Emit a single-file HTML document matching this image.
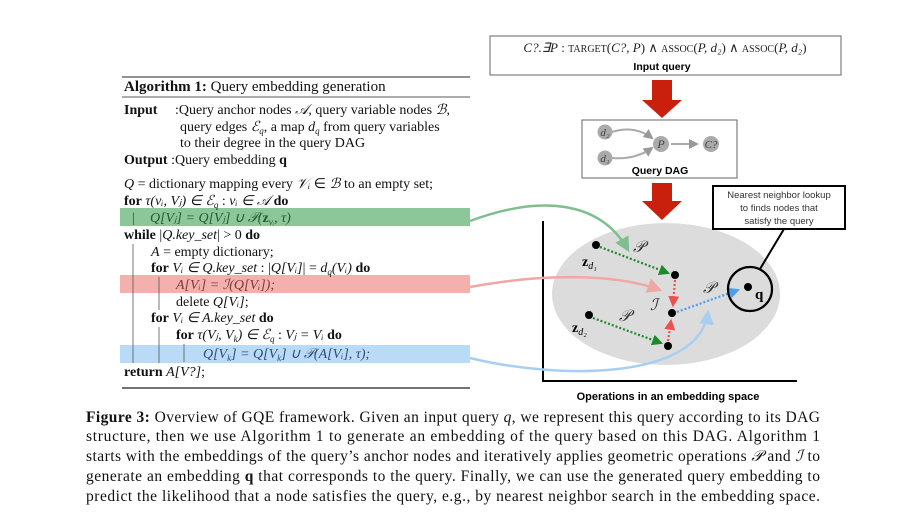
<!DOCTYPE html>
<html><head><meta charset="utf-8"><style>
html,body{margin:0;padding:0;background:#fff;}
svg{display:block;}
.s{font-family:"Liberation Serif",serif;}
.a{font-family:"Liberation Sans",sans-serif;}
</style></head><body>
<svg width="907" height="518" viewBox="0 0 907 518">
<defs>
<marker id="mg" markerWidth="6" markerHeight="6" refX="5" refY="3" orient="auto"><path d="M0,0L6,3L0,6z" fill="#7fbf8f"/></marker>
<marker id="mr" markerWidth="6" markerHeight="6" refX="5" refY="3" orient="auto"><path d="M0,0L6,3L0,6z" fill="#f0a8a4"/></marker>
<marker id="mb" markerWidth="6" markerHeight="6" refX="5" refY="3" orient="auto"><path d="M0,0L6,3L0,6z" fill="#a8cff2"/></marker>
<marker id="dg" markerWidth="5" markerHeight="5" refX="4" refY="2.5" orient="auto"><path d="M0,0L5,2.5L0,5z" fill="#1a8a2a"/></marker>
<marker id="dr" markerWidth="5" markerHeight="5" refX="4" refY="2.5" orient="auto"><path d="M0,0L5,2.5L0,5z" fill="#ee5050"/></marker>
<marker id="db" markerWidth="5" markerHeight="5" refX="4" refY="2.5" orient="auto"><path d="M0,0L5,2.5L0,5z" fill="#4aa0f0"/></marker>
<marker id="gy" markerWidth="5" markerHeight="5" refX="4" refY="2.5" orient="auto"><path d="M0,0L5,2.5L0,5z" fill="#999"/></marker>
</defs>

<!-- Algorithm -->
<g class="s" font-size="14" fill="#111">
<line x1="122" y1="77" x2="470" y2="77" stroke="#222" stroke-width="1"/>
<text x="124" y="91" font-size="15"><tspan font-weight="bold">Algorithm 1:</tspan> Query embedding generation</text>
<line x1="122" y1="97" x2="470" y2="97" stroke="#222" stroke-width="0.8"/>
<rect x="120" y="208" width="350" height="18" fill="#8cc79a"/>
<rect x="120" y="275" width="350" height="18" fill="#f4b0ad"/>
<rect x="120" y="345" width="350" height="18" fill="#b9dbf8"/>
<text x="124" y="114"><tspan font-weight="bold">Input</tspan></text>
<text x="175" y="114">:Query anchor nodes <tspan font-style="italic">𝒜</tspan>, query variable nodes <tspan font-style="italic">ℬ</tspan>,</text>
<text x="180" y="131">query edges <tspan font-style="italic">ℰ</tspan><tspan font-size="9" font-style="italic" dy="3">q</tspan><tspan dy="-3">, a map </tspan><tspan font-style="italic">d</tspan><tspan font-size="9" font-style="italic" dy="3">q</tspan><tspan dy="-3"> from query variables</tspan></text>
<text x="180" y="147">to their degree in the query DAG</text>
<text x="124" y="164"><tspan font-weight="bold">Output</tspan> :Query embedding <tspan font-weight="bold">q</tspan></text>
<text x="124" y="188"><tspan font-style="italic">Q</tspan> = dictionary mapping every <tspan font-style="italic">𝒱ᵢ</tspan> ∈ <tspan font-style="italic">ℬ</tspan> to an empty set;</text>
<text x="124" y="205"><tspan font-weight="bold">for</tspan> <tspan font-style="italic">τ(vᵢ, Vⱼ) ∈ ℰ</tspan><tspan font-size="9" font-style="italic" dy="3">q</tspan><tspan dy="-3"> : </tspan><tspan font-style="italic">vᵢ ∈ 𝒜</tspan> <tspan font-weight="bold">do</tspan></text>
<text x="132" y="222" fill="#235a30">|</text>
<text x="150" y="222" font-style="italic" fill="#235a30">Q[Vⱼ] = Q[Vⱼ] ∪ 𝒫(<tspan font-weight="bold" font-style="normal">z</tspan><tspan font-size="9" dy="3">vᵢ</tspan><tspan dy="-3">, τ)</tspan></text>
<text x="124" y="239"><tspan font-weight="bold">while</tspan> |<tspan font-style="italic">Q.key_set</tspan>| &gt; 0 <tspan font-weight="bold">do</tspan></text>
<line x1="133" y1="244" x2="133" y2="363" stroke="#555" stroke-width="0.8"/>
<text x="151" y="256"><tspan font-style="italic">A</tspan> = empty dictionary;</text>
<text x="151" y="272"><tspan font-weight="bold">for</tspan> <tspan font-style="italic">Vᵢ ∈ Q.key_set</tspan> : |<tspan font-style="italic">Q[Vᵢ]</tspan>| = <tspan font-style="italic">d</tspan><tspan font-size="9" font-style="italic" dy="3">q</tspan><tspan dy="-3" font-style="italic">(Vᵢ)</tspan> <tspan font-weight="bold">do</tspan></text>
<line x1="159" y1="277" x2="159" y2="310" stroke="#555" stroke-width="0.8"/>
<text x="176" y="289" font-style="italic" fill="#7a3a38">A[Vᵢ] = ℐ(Q[Vᵢ]);</text>
<text x="176" y="306">delete <tspan font-style="italic">Q[Vᵢ]</tspan>;</text>
<text x="151" y="322"><tspan font-weight="bold">for</tspan> <tspan font-style="italic">Vᵢ ∈ A.key_set</tspan> <tspan font-weight="bold">do</tspan></text>
<line x1="159" y1="327" x2="159" y2="363" stroke="#555" stroke-width="0.8"/>
<text x="176" y="339"><tspan font-weight="bold">for</tspan> <tspan font-style="italic">τ(Vⱼ, V</tspan><tspan font-size="9" font-style="italic" dy="3">k</tspan><tspan dy="-3" font-style="italic">) ∈ ℰ</tspan><tspan font-size="9" font-style="italic" dy="3">q</tspan><tspan dy="-3"> : </tspan><tspan font-style="italic">Vⱼ = Vᵢ</tspan> <tspan font-weight="bold">do</tspan></text>
<line x1="184" y1="344" x2="184" y2="362" stroke="#555" stroke-width="0.8"/>
<text x="203" y="358" font-style="italic" fill="#2a4f70">Q[V<tspan font-size="9" dy="3">k</tspan><tspan dy="-3">] = Q[V</tspan><tspan font-size="9" dy="3">k</tspan><tspan dy="-3">] ∪ 𝒫(A[Vᵢ], τ);</tspan></text>
<text x="124" y="376"><tspan font-weight="bold">return</tspan> <tspan font-style="italic">A[V?]</tspan>;</text>
<line x1="122" y1="388" x2="470" y2="388" stroke="#222" stroke-width="1.2"/>
</g>

<!-- Input query box -->
<g>
<rect x="490" y="36" width="351" height="39" fill="#fff" stroke="#666" stroke-width="1"/>
<text x="665" y="52" text-anchor="middle" class="s" font-size="13" fill="#222"><tspan font-style="italic">C?.∃P</tspan> : <tspan font-size="10">TARGET</tspan>(<tspan font-style="italic">C?, P</tspan>) ∧ <tspan font-size="10">ASSOC</tspan>(<tspan font-style="italic">P, d₂</tspan>) ∧ <tspan font-size="10">ASSOC</tspan>(<tspan font-style="italic">P, d₂</tspan>)</text>
<text x="662" y="70" text-anchor="middle" class="a" font-size="10.5" font-weight="bold">Input query</text>
</g>
<path d="M652,80h20v20h10l-20,18l-20,-18h10z" fill="#c8200c"/>

<!-- DAG box -->
<g>
<rect x="582" y="120" width="155" height="58" fill="#fff" stroke="#666" stroke-width="1"/>
<path d="M612,132 Q635,125 652,138" stroke="#aaa" stroke-width="2" fill="none" marker-end="url(#gy)"/>
<path d="M612,158 Q635,160 652,148" stroke="#aaa" stroke-width="2" fill="none" marker-end="url(#gy)"/>
<line x1="671" y1="144" x2="697" y2="144" stroke="#aaa" stroke-width="2" marker-end="url(#gy)"/>
<circle cx="605" cy="132" r="7.5" fill="#aaa"/><text x="605" y="136" text-anchor="middle" class="s" font-style="italic" font-size="11" fill="#444">d₂</text>
<circle cx="605" cy="158" r="7.5" fill="#aaa"/><text x="605" y="162" text-anchor="middle" class="s" font-style="italic" font-size="11" fill="#444">d₁</text>
<circle cx="661" cy="144" r="8" fill="#aaa"/><text x="661" y="148" text-anchor="middle" class="s" font-style="italic" font-size="12" fill="#444">P</text>
<circle cx="711" cy="144" r="8" fill="#aaa"/><text x="711" y="148" text-anchor="middle" class="s" font-style="italic" font-size="11" fill="#444">C?</text>
<text x="660" y="174" text-anchor="middle" class="a" font-size="10.5" font-weight="bold">Query DAG</text>
</g>
<path d="M652,183h20v18h10l-20,19l-20,-19h10z" fill="#c8200c"/>

<!-- embedding space -->
<g>
<ellipse cx="666" cy="294" rx="114" ry="71" fill="#dcdcdc"/>
<line x1="543" y1="221" x2="543" y2="382" stroke="#000" stroke-width="2"/>
<line x1="542" y1="381" x2="797" y2="381" stroke="#000" stroke-width="2"/>
<text x="668" y="400" text-anchor="middle" class="a" font-size="11" font-weight="bold">Operations in an embedding space</text>
<line x1="600" y1="247" x2="668" y2="273" stroke="#1a8a2a" stroke-width="2.2" stroke-dasharray="2,2" marker-end="url(#dg)"/>
<line x1="593" y1="318" x2="661" y2="343" stroke="#1a8a2a" stroke-width="2.2" stroke-dasharray="2,2" marker-end="url(#dg)"/>
<line x1="675" y1="280" x2="673" y2="305" stroke="#ee5050" stroke-width="2.2" stroke-dasharray="2,2" marker-end="url(#dr)"/>
<line x1="668" y1="341" x2="671" y2="321" stroke="#ee5050" stroke-width="2.2" stroke-dasharray="2,2" marker-end="url(#dr)"/>
<line x1="677" y1="312" x2="738" y2="290" stroke="#4aa0f0" stroke-width="2.2" stroke-dasharray="2,2" marker-end="url(#db)"/>
<circle cx="596" cy="245" r="4" fill="#000"/>
<circle cx="675" cy="275" r="4" fill="#000"/>
<circle cx="672" cy="313" r="4" fill="#000"/>
<circle cx="668" cy="346" r="4" fill="#000"/>
<circle cx="589" cy="315" r="4" fill="#000"/>
<circle cx="748" cy="287" r="4" fill="#000"/>
<circle cx="750" cy="289" r="22" fill="none" stroke="#000" stroke-width="2.2"/>
<text x="755" y="299" class="s" font-weight="bold" font-size="15">q</text>
<text x="582" y="266" class="s" font-weight="bold" font-size="14">z<tspan font-size="10" font-weight="normal" font-style="italic" dy="3">d₁</tspan></text>
<text x="572" y="332" class="s" font-weight="bold" font-size="14">z<tspan font-size="10" font-weight="normal" font-style="italic" dy="3">d₂</tspan></text>
<text x="633" y="252" class="s" font-style="italic" font-size="16" fill="#333">𝒫</text>
<text x="619" y="321" class="s" font-style="italic" font-size="16" fill="#333">𝒫</text>
<text x="703" y="293" class="s" font-style="italic" font-size="16" fill="#333">𝒫</text>
<text x="650" y="310" class="s" font-style="italic" font-size="16" fill="#333">ℐ</text>
</g>

<!-- nearest neighbor -->
<g>
<line x1="760" y1="269" x2="784" y2="229" stroke="#000" stroke-width="2"/>
<rect x="713" y="186" width="132" height="43" fill="#fff" stroke="#000" stroke-width="2"/>
<text x="779" y="198" text-anchor="middle" class="a" font-size="9.5" fill="#333">Nearest neighbor lookup</text>
<text x="779" y="211" text-anchor="middle" class="a" font-size="9.5" fill="#333">to finds nodes that</text>
<text x="779" y="224" text-anchor="middle" class="a" font-size="9.5" fill="#333">satisfy the query</text>
</g>

<!-- connecting curves -->
<path d="M470,221 C540,195 600,200 628,250" stroke="#7fbf8f" stroke-width="2.5" fill="none" marker-end="url(#mg)"/>
<path d="M470,287 C550,272 620,275 660,290" stroke="#f0a8a4" stroke-width="2.5" fill="none" marker-end="url(#mr)"/>
<path d="M470,358 C560,380 700,380 708,312" stroke="#a8cff2" stroke-width="2.5" fill="none" marker-end="url(#mb)"/>

<!-- caption -->
<g class="s" font-size="15.5" fill="#111">
<text x="86" y="422" textLength="734" lengthAdjust="spacing"><tspan font-weight="bold">Figure 3:</tspan> Overview of GQE framework. Given an input query <tspan font-style="italic">q</tspan>, we represent this query according to its DAG</text>
<text x="86" y="441" textLength="734" lengthAdjust="spacing">structure, then we use Algorithm 1 to generate an embedding of the query based on this DAG. Algorithm 1</text>
<text x="86" y="461" textLength="734" lengthAdjust="spacing">starts with the embeddings of the query’s anchor nodes and iteratively applies geometric operations <tspan font-style="italic">𝒫</tspan> and <tspan font-style="italic">ℐ</tspan> to</text>
<text x="86" y="481" textLength="734" lengthAdjust="spacing">generate an embedding <tspan font-weight="bold">q</tspan> that corresponds to the query. Finally, we can use the generated query embedding to</text>
<text x="86" y="501" textLength="734" lengthAdjust="spacing">predict the likelihood that a node satisfies the query, e.g., by nearest neighbor search in the embedding space.</text>
</g>
</svg>
</body></html>
